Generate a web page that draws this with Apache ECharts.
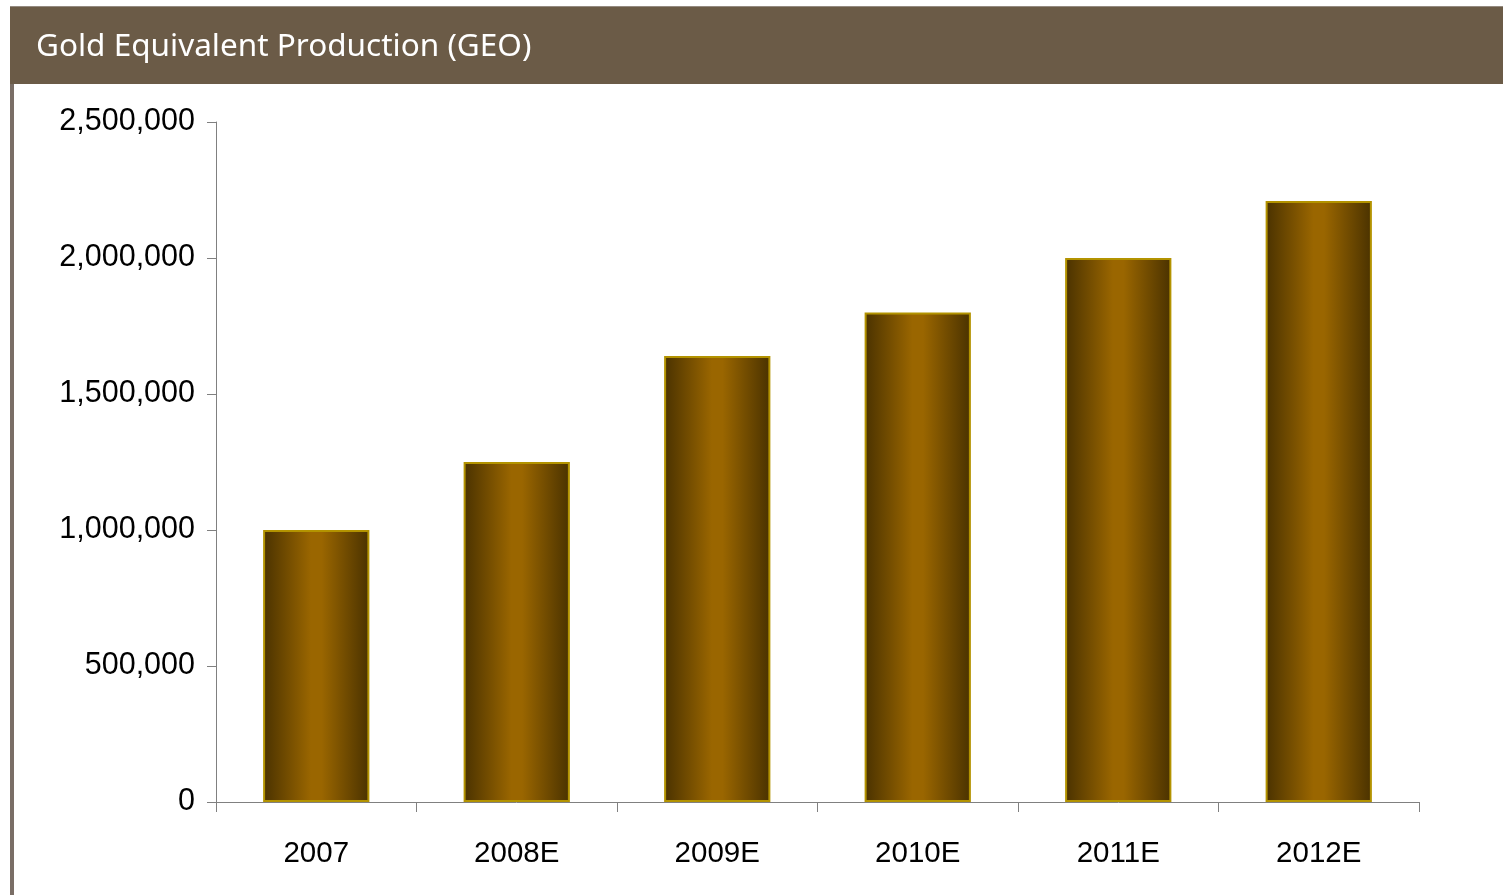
<!DOCTYPE html>
<html>
<head>
<meta charset="utf-8">
<title>Gold Equivalent Production (GEO)</title>
<script src="https://cdn.jsdelivr.net/npm/echarts@6/dist/echarts.min.js"></script>
<style>
  html, body { margin: 0; padding: 0; background: #ffffff; }
  #chart { width: 1503px; height: 895px; }
</style>
</head>
<body>
<div id="chart"></div>
<script>
// Production by year (gold equivalent ounces)
const categories = ['2007', '2008E', '2009E', '2010E', '2011E', '2012E'];
const geoValues = [1000000, 1250000, 1640000, 1800000, 2000000, 2210000];
const yTicks = [0, 500000, 1000000, 1500000, 2000000, 2500000];
const chartTitle = 'Gold Equivalent Production (GEO)';

const chart = echarts.init(document.getElementById('chart'), null, { renderer: 'canvas' });

const barFill = new echarts.graphic.LinearGradient(0, 0, 1, 0, [
  { offset: 0, color: '#4a3200' },
  { offset: 0.45, color: '#9a6600' },
  { offset: 0.55, color: '#9a6600' },
  { offset: 1, color: '#4a3200' }
]);

chart.setOption({
  backgroundColor: '#ffffff',
  animation: false,
  graphic: [
    // header band
    { type: 'rect', shape: { x: 10, y: 6, width: 1493, height: 78 },
      style: { fill: '#6b5b47' }, z: 0 },
    { type: 'rect', shape: { x: 10, y: 6, width: 1493, height: 1 },
      style: { fill: '#948a80' }, z: 1 },
    // left frame edge
    { type: 'rect', shape: { x: 10, y: 84, width: 4, height: 811 },
      style: { fill: '#7a6e66' }, z: 0 }
  ],
  title: {
    text: chartTitle,
    left: 31,
    top: 26,
    textStyle: {
      color: '#ffffff',
      fontFamily: 'Noto Sans',
      fontSize: 31.5,
      fontWeight: 'normal'
    }
  },
  grid: { left: 216, right: 84, top: 122, bottom: 93, containLabel: false },
  xAxis: {
    type: 'category',
    data: categories,
    axisLine: { show: true, lineStyle: { color: '#808080', width: 1 } },
    axisTick: { show: true, alignWithLabel: false, length: 10, lineStyle: { color: '#808080' } },
    axisLabel: {
      color: '#000000',
      fontFamily: 'Liberation Sans',
      fontSize: 29.5,
      margin: 37
    },
    splitLine: { show: false }
  },
  yAxis: {
    type: 'value',
    min: yTicks[0],
    max: yTicks[yTicks.length - 1],
    interval: yTicks[1] - yTicks[0],
    axisLine: { show: true, lineStyle: { color: '#808080', width: 1 } },
    axisTick: { show: true, length: 9, lineStyle: { color: '#808080' } },
    axisLabel: {
      color: '#000000',
      fontFamily: 'Liberation Sans',
      fontSize: 30.5,
      margin: 21,
      formatter: v => v.toLocaleString('en-US')
    },
    splitLine: { show: false }
  },
  series: [{
    type: 'bar',
    data: geoValues,
    barWidth: '53%',
    itemStyle: {
      color: barFill,
      borderColor: '#b39300',
      borderWidth: 2
    }
  }]
});
</script>
</body>
</html>
